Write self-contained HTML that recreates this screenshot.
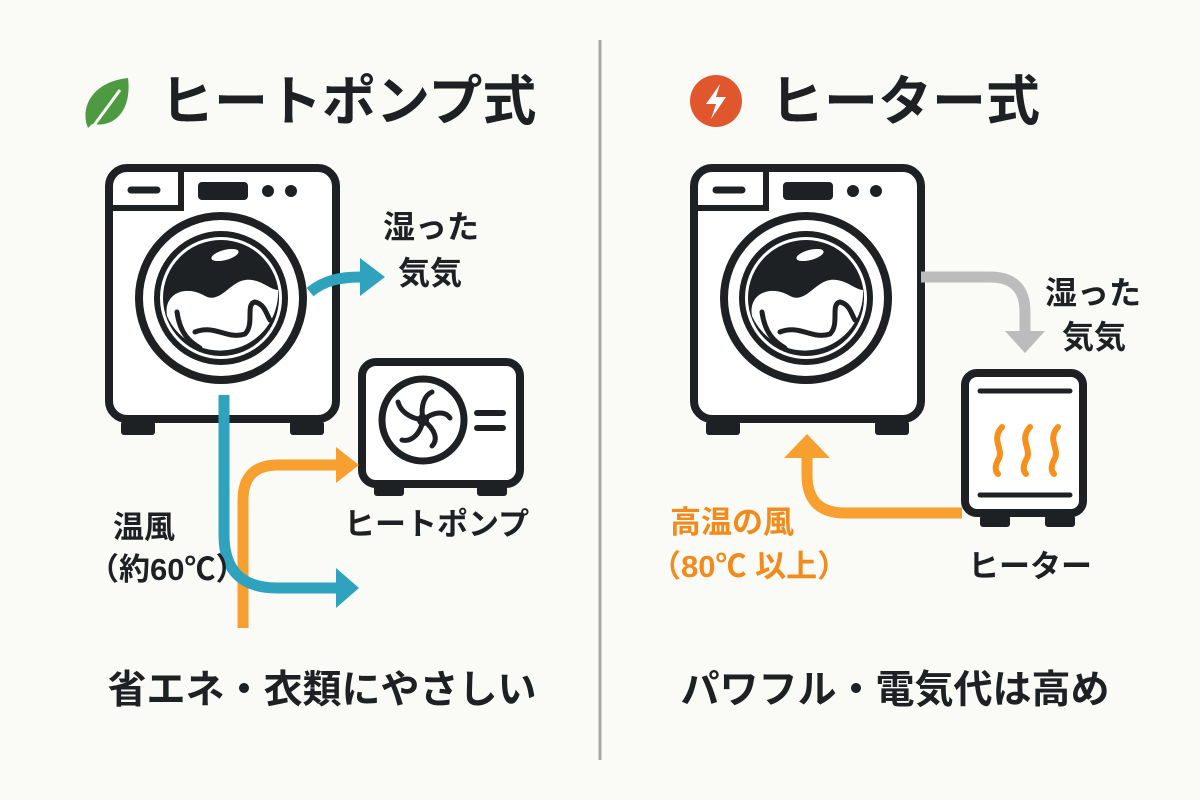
<!DOCTYPE html>
<html><head><meta charset="utf-8"><style>
html,body{margin:0;padding:0;background:#fafaf7;}
svg{display:block;}
text{font-family:"Liberation Sans","Noto Sans CJK JP",sans-serif;font-weight:700;fill:#1e2124;}
</style></head><body>
<svg width="1200" height="800" viewBox="0 0 1200 800" xmlns="http://www.w3.org/2000/svg">
<defs>
<g id="washer">
  <rect x="4" y="4" width="227" height="251" rx="18" fill="#fff" stroke="#1e2124" stroke-width="8"/>
  <rect x="16" y="257" width="34" height="14" rx="3" fill="#1e2124"/>
  <rect x="185" y="257" width="34" height="14" rx="3" fill="#1e2124"/>
  <path d="M4 44 H76 V4" fill="none" stroke="#1e2124" stroke-width="6"/>
  <line x1="26" y1="26" x2="52" y2="26" stroke="#1e2124" stroke-width="7" stroke-linecap="round"/>
  <rect x="93" y="18" width="50" height="18" rx="4" fill="#1e2124"/>
  <circle cx="163" cy="27" r="6" fill="#1e2124"/>
  <circle cx="186" cy="27" r="6" fill="#1e2124"/>
  <circle cx="116" cy="134" r="82" fill="#fff" stroke="#1e2124" stroke-width="8"/>
  <circle cx="116" cy="134" r="64" fill="#fff" stroke="#1e2124" stroke-width="6"/>
  <circle cx="116" cy="134" r="58" fill="#1e2124"/>
  <path d="M62 152 C58 130 80 120 100 132 C115 140 125 118 140 116 C155 114 165 126 173 126 A58 58 0 0 1 62 152 Z" fill="#fff"/>
  <path d="M72 148 C75 170 85 178 95 184 M90 168 C110 160 122 176 140 170 C150 160 140 140 150 138 C160 140 162 152 165 156" fill="none" stroke="#1e2124" stroke-width="5" stroke-linecap="round"/>
  <ellipse cx="120" cy="91" rx="14" ry="5" fill="#fff" transform="rotate(-15 120 91)"/>
</g>
</defs>

<line x1="600" y1="40" x2="600" y2="760" stroke="#a9a9a9" stroke-width="3"/>

<path d="M88 128 C80 110 90 82 128 78 C132 110 115 128 92 124 Z" fill="#4d9a42"/>
<path d="M92 128 L120 90" stroke="#fafaf7" stroke-width="3" fill="none"/>
<text x="160" y="120" font-size="54">ヒートポンプ式</text>

<circle cx="716" cy="101" r="26" fill="#e0572e"/>
<path d="M720 84 L706 104 H716 L711 119 L726 97 H716 Z" fill="#fff"/>
<text x="770" y="120" font-size="54">ヒーター式</text>

<use href="#washer" x="105" y="164"/>
<rect x="362" y="362" width="158" height="122" rx="14" fill="#fff" stroke="#1e2124" stroke-width="8"/>
<rect x="374" y="484" width="30" height="12" rx="3" fill="#1e2124"/>
<rect x="477" y="484" width="30" height="12" rx="3" fill="#1e2124"/>
<circle cx="423" cy="420" r="41" fill="#fff" stroke="#1e2124" stroke-width="7"/>
<g stroke="#1e2124" stroke-width="5" fill="none" stroke-linecap="round">
<path d="M423 420 C420 405 425 395 432 392" />
<path d="M423 420 C436 410 446 412 450 418" />
<path d="M423 420 C436 430 438 440 432 446" />
<path d="M423 420 C420 436 410 442 402 440" />
<path d="M423 420 C408 418 400 410 398 402" />
</g>
<circle cx="423" cy="420" r="6" fill="#1e2124"/>
<line x1="477" y1="413" x2="503" y2="413" stroke="#1e2124" stroke-width="6" stroke-linecap="round"/>
<line x1="477" y1="428" x2="503" y2="428" stroke="#1e2124" stroke-width="6" stroke-linecap="round"/>

<path d="M310 292 C325 280 340 277 362 277" fill="none" stroke="#2fa3bd" stroke-width="11"/>
<polygon points="360,258 385,277 360,296" fill="#2fa3bd"/>
<path d="M243 628 V500 Q243 465 278 465 H338" fill="none" stroke="#f7a030" stroke-width="11"/>
<polygon points="336,447 359,465 336,483" fill="#f7a030"/>
<path d="M224 395 V535 Q224 588 277 588 H338" fill="none" stroke="#2fa3bd" stroke-width="11"/>
<polygon points="336,568 359,588 336,608" fill="#2fa3bd"/>

<text x="383" y="238" font-size="32">湿った</text>
<text x="398" y="284" font-size="32">気気</text>
<text x="113" y="538" font-size="31">温風</text>
<text x="88" y="580" font-size="31">（約60℃）</text>
<text x="344" y="535" font-size="31">ヒートポンプ</text>
<text x="322" y="703" font-size="39" text-anchor="middle">省エネ・衣類にやさしい</text>

<use href="#washer" x="690" y="164"/>
<rect x="965" y="373" width="118" height="140" rx="12" fill="#fff" stroke="#1e2124" stroke-width="8"/>
<rect x="980" y="515" width="30" height="12" rx="3" fill="#1e2124"/>
<rect x="1045" y="515" width="30" height="12" rx="3" fill="#1e2124"/>
<line x1="980" y1="391" x2="1070" y2="391" stroke="#1e2124" stroke-width="5" stroke-linecap="round"/>
<line x1="980" y1="495" x2="1070" y2="495" stroke="#1e2124" stroke-width="5" stroke-linecap="round"/>
<g stroke="#f7901a" stroke-width="6" fill="none" stroke-linecap="round">
<path d="M1002 427 C990 440 1005 450 998 460 C994 468 996 472 998 474"/>
<path d="M1030 427 C1018 440 1033 450 1026 460 C1022 468 1024 472 1026 474"/>
<path d="M1058 427 C1046 440 1061 450 1054 460 C1050 468 1052 472 1054 474"/>
</g>

<path d="M921 277 H990 Q1025 277 1025 312 V333" fill="none" stroke="#bcbcbc" stroke-width="11"/>
<polygon points="1005,331 1045,331 1025,353" fill="#bcbcbc"/>
<path d="M962 513 H845 Q807 513 807 475 V455" fill="none" stroke="#f7a030" stroke-width="11"/>
<polygon points="784,458 807,434 830,458" fill="#f7a030"/>

<text x="1045" y="304" font-size="32">湿った</text>
<text x="1062" y="348" font-size="32">気気</text>
<text x="670" y="533" font-size="31" style="fill:#f28a1c">高温の風</text>
<text x="650" y="577" font-size="31" style="fill:#f28a1c">（80℃ 以上）</text>
<text x="968" y="577" font-size="31">ヒーター</text>
<text x="895" y="703" font-size="39" text-anchor="middle">パワフル・電気代は高め</text>
</svg>
</body></html>
